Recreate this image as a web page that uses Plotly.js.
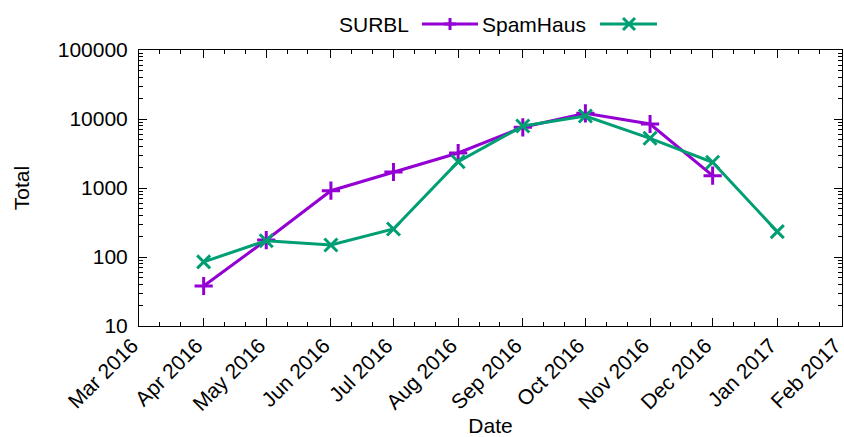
<!DOCTYPE html>
<html>
<head>
<meta charset="utf-8">
<script src="https://cdn.plot.ly/plotly-3.0.1.min.js"></script>
<style>html,body{margin:0;padding:0;background:#fff;}#chart{width:844px;height:437px;}</style>
</head>
<body>
<div id="chart"></div>
<script>
// ---- data ----
const surblDates = ["2016-04-01","2016-05-01","2016-06-01","2016-07-01","2016-08-01","2016-09-01","2016-10-01","2016-11-01","2016-12-01"];
const surblTotals = [38, 176, 914, 1706, 3215, 7580, 12100, 8470, 1508];
const spamhausDates = ["2016-04-01","2016-05-01","2016-06-01","2016-07-01","2016-08-01","2016-09-01","2016-10-01","2016-11-01","2016-12-01","2017-01-01"];
const spamhausTotals = [85, 172, 149, 255, 2405, 7920, 11050, 5250, 2357, 233];
const seriesNames = ["SURBL", "SpamHaus"];
const yTickVals = [10, 100, 1000, 10000, 100000];
const yTickText = ["10", "100", "1000", "10000", "100000"];
const xRange = ["2016-03-01", "2017-02-01 00:30"];

// ---- styles ----
const FONT = "Liberation Sans, Arial, Helvetica, sans-serif";
const FS = 21;
const C1 = "#9400d3", C2 = "#009e73";

// minor x ticks at 11th and 21st of each month
const minorX = [];
for (let y = 2016, m = 3; !(y === 2017 && m > 1); ) {
  const mm = String(m).padStart(2, "0");
  minorX.push(`${y}-${mm}-11`, `${y}-${mm}-21`);
  m++; if (m > 12) { m = 1; y++; }
}

const traces = [
  {x: surblDates, y: surblTotals, name: seriesNames[0], type: "scatter", mode: "lines+markers",
   line: {color: C1, width: 3},
   marker: {symbol: "cross-thin-open", size: 13, color: C1, line: {color: C1, width: 3}}},
  {x: spamhausDates, y: spamhausTotals, name: seriesNames[1], type: "scatter", mode: "lines+markers",
   line: {color: C2, width: 3},
   marker: {symbol: "x-thin-open", size: 13, color: C2, line: {color: C2, width: 3}}}
];

// legend (gnuplot style: text then sample)
const W = 703, H = 276, L = 139, T = 50;
const px = v => (v - L) / W;
const py = v => (T + H - v) / H;
const ly = py(24);
function seg(x0, x1, col) {
  return {type: "line", xref: "paper", yref: "paper", x0: px(x0), x1: px(x1), y0: ly, y1: ly,
          line: {color: col, width: 3}};
}
function pix(cx, dx0, dy0, dx1, dy1, col) {
  return {type: "line", xref: "paper", yref: "paper", xsizemode: "pixel", ysizemode: "pixel",
          xanchor: px(cx), yanchor: ly, x0: dx0, x1: dx1, y0: dy0, y1: dy1,
          line: {color: col, width: 3}};
}
const shapes = [
  seg(422, 478, C1),
  pix(450, -6, 0, 6, 0, C1), pix(450, 0, -6, 0, 6, C1),
  seg(600, 657, C2),
  pix(629, -6, -6, 6, 6, C2), pix(629, -6, 6, 6, -6, C2)
];
const annotations = [
  {text: seriesNames[0], xref: "paper", yref: "paper", x: px(411), y: ly, xanchor: "right", yanchor: "middle",
   showarrow: false, font: {family: FONT, size: FS, color: "#000"}},
  {text: seriesNames[1], xref: "paper", yref: "paper", x: px(588), y: ly, xanchor: "right", yanchor: "middle",
   showarrow: false, font: {family: FONT, size: FS, color: "#000"}}
];

const layout = {
  width: 844, height: 437,
  margin: {l: L, r: 844 - L - W, t: T, b: 437 - T - H, pad: 0},
  paper_bgcolor: "#fff", plot_bgcolor: "#fff",
  showlegend: false,
  font: {family: FONT, size: FS, color: "#000"},
  xaxis: {
    type: "date", range: xRange, tick0: "2016-03-01", dtick: "M1", tickformat: "%b %Y",
    tickangle: -45, ticks: "inside", ticklen: 8, tickwidth: 1, tickcolor: "#000",
    ticklabeloverflow: "allow", ticklabelshift: -7, ticklabelstandoff: -2,
    showline: true, linecolor: "#000", linewidth: 1, mirror: "ticks",
    showgrid: false, zeroline: false,
    minor: {tickmode: "array", tickvals: minorX, ticks: "inside", ticklen: 4, tickcolor: "#000", showgrid: false},
    title: {text: "Date", font: {family: FONT, size: FS}, standoff: 14},
    tickfont: {family: FONT, size: FS}
  },
  yaxis: {
    type: "log", range: [1, 5], tickmode: "array", tickvals: yTickVals, ticktext: yTickText,
    ticks: "inside", ticklen: 8, tickwidth: 1, tickcolor: "#000",
    showline: true, linecolor: "#000", linewidth: 1, mirror: "ticks",
    showgrid: false, zeroline: false,
    minor: {ticks: "inside", ticklen: 4, tickcolor: "#000", showgrid: false, dtick: "D1"},
    ticklabelstandoff: 6,
    title: {text: "Total", font: {family: FONT, size: FS}, standoff: 22},
    tickfont: {family: FONT, size: FS}
  },
  shapes: shapes,
  annotations: annotations,
  hovermode: false
};

Plotly.newPlot("chart", traces, layout, {displayModeBar: false, staticPlot: true});
</script>
</body>
</html>
